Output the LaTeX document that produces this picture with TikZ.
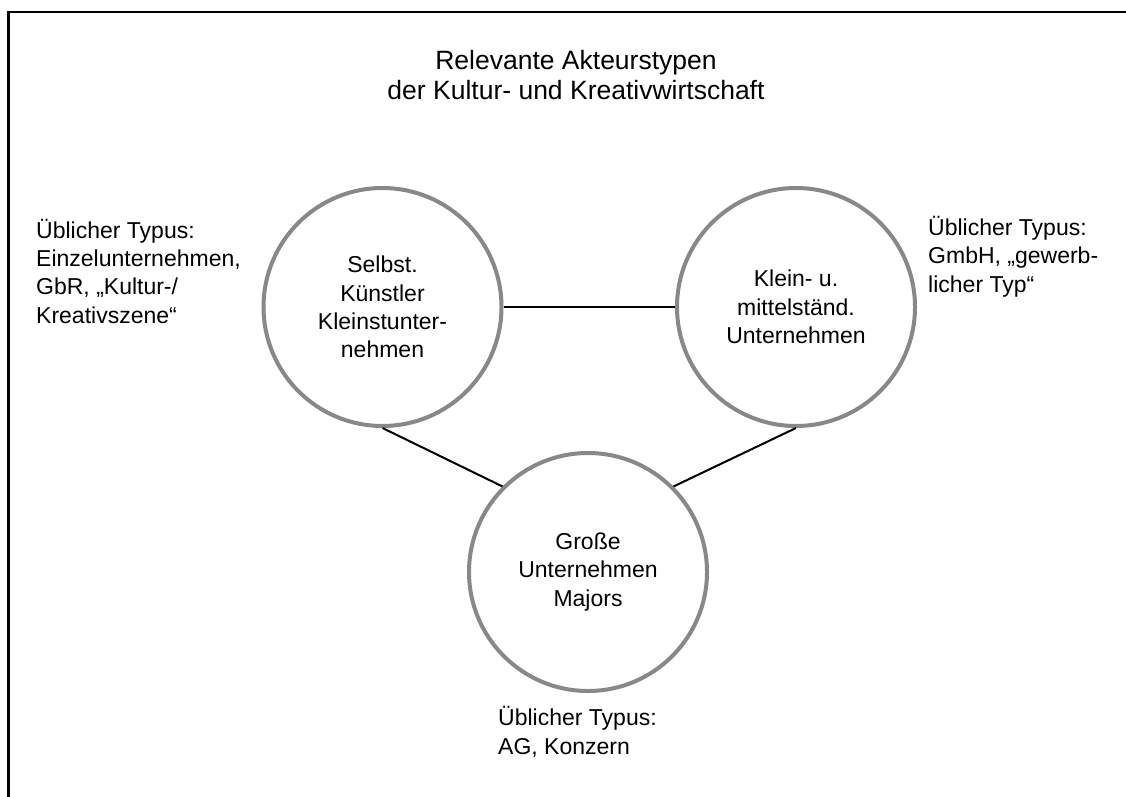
\documentclass[tikz,border=0pt]{standalone}
\usepackage{fontspec}
\setmainfont{Liberation Sans}
\definecolor{ringgray}{RGB}{136,136,136}
\begin{document}
\begin{tikzpicture}[x=1pt,y=-1pt,
  circ/.style={circle, draw=ringgray, line width=4pt, minimum size=238pt, inner sep=0pt,
    align=center, font=\fontsize{23}{28.4}\selectfont},
  conn/.style={draw=black, line width=2pt},
  lbl/.style={inner sep=0pt, align=left, font=\fontsize{23}{28.2}\selectfont},
  ttl/.style={inner sep=0pt, align=center, font=\fontsize{26.5}{30}\selectfont}]
\useasboundingbox (0,0) rectangle (1126,797);
\clip (0,0) rectangle (1126,797);
\fill[white] (0,0) rectangle (1126,797);
\draw[line width=2.7pt] (1130,12) -- (8.7,12) -- (8.7,800);

\node[ttl, anchor=base] (title) at (576,100) {Relevante Akteurstypen\\der Kultur- und Kreativwirtschaft};

\node[circ] (ks) at (382.5,307) {Selbst.\\Künstler\\Kleinstunter-\\nehmen};
\node[circ] (kmu) at (796,307) {Klein- u.\\mittelständ.\\Unternehmen};
\node[circ] (gu) at (588,572) {Große\\Unternehmen\\Majors};

\draw[conn] (ks.east) -- (kmu.west);
\draw[conn] (ks.south) -- (gu.135);
\draw[conn] (kmu.south) -- (gu.45);

\node[lbl, anchor=base west] (l1) at (36,323) {Üblicher Typus:\\Einzelunternehmen,\\GbR, „Kultur-/\\Kreativszene“};
\node[lbl, anchor=base west] (l2) at (928,292) {Üblicher Typus:\\GmbH, „gewerb-\\licher Typ“};
\node[lbl, anchor=base west] (l3) at (498,754) {Üblicher Typus:\\AG, Konzern};
\end{tikzpicture}
\end{document}
